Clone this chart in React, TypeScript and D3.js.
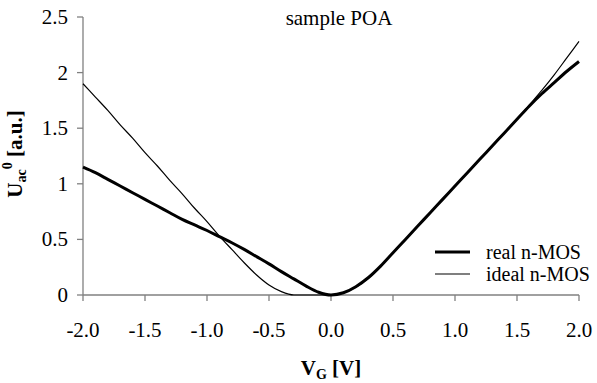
import * as React from 'react';
import * as d3 from 'd3';

const vg = [
  -2.0, -1.9, -1.8, -1.7, -1.6, -1.5, -1.4, -1.3, -1.2, -1.1, -1.0,
  -0.9, -0.8, -0.7, -0.6, -0.5, -0.4, -0.3, -0.2, -0.1, 0.0,
  0.1, 0.2, 0.3, 0.4, 0.5, 0.6, 0.7, 0.8, 0.9, 1.0,
  1.1, 1.2, 1.3, 1.4, 1.5, 1.6, 1.7, 1.8, 1.9, 2.0,
];
const realNMOS = [
  1.15, 1.10, 1.04, 0.98, 0.92, 0.86, 0.80, 0.74, 0.68, 0.63, 0.58,
  0.525, 0.47, 0.41, 0.345, 0.28, 0.21, 0.145, 0.08, 0.025, 0.0,
  0.02, 0.075, 0.155, 0.26, 0.38, 0.5, 0.62, 0.74, 0.86, 0.98,
  1.10, 1.22, 1.34, 1.46, 1.58, 1.70, 1.81, 1.91, 2.01, 2.10,
];
const idealNMOS = [
  1.90, 1.78, 1.66, 1.53, 1.41, 1.28, 1.16, 1.03, 0.91, 0.78, 0.66,
  0.53, 0.41, 0.29, 0.18, 0.09, 0.03, 0.0, 0.0, 0.0, 0.0,
  0.02, 0.07, 0.15, 0.26, 0.38, 0.5, 0.62, 0.74, 0.86, 0.98,
  1.10, 1.22, 1.34, 1.46, 1.58, 1.71, 1.84, 1.98, 2.13, 2.28,
];
const xTicks = [-2.0, -1.5, -1.0, -0.5, 0.0, 0.5, 1.0, 1.5, 2.0];
const yTicks = [0, 0.5, 1, 1.5, 2, 2.5];
const seriesNames = ['real n-MOS', 'ideal n-MOS'];

const font = "'Times New Roman', 'Liberation Serif', serif";
const axisColor = '#808080';

export default function App() {
  const width = 597;
  const height = 383;
  const margin = {top: 17, right: 18, bottom: 88, left: 83};
  const w = width - margin.left - margin.right;
  const h = height - margin.top - margin.bottom;

  const x = d3.scaleLinear().domain([-2, 2]).range([0, w]);
  const y = d3.scaleLinear().domain([0, 2.5]).range([h, 0]);

  const line = d3.line<number>()
    .x((_, i) => x(vg[i]))
    .y(d => y(d))
    .curve(d3.curveMonotoneX);

  return (
    <svg width={width} height={height} fontFamily={font} fontSize={21}
      style={{position: 'absolute', left: 0, top: 0, background: '#fff', fontFamily: font}}>
      <g transform={`translate(${margin.left},${margin.top})`}>
        {/* y axis */}
        <line x1={0} x2={0} y1={0} y2={h} stroke={axisColor} strokeWidth={1.3} />
        {yTicks.map(t => (
          <g key={'y' + t} transform={`translate(0,${y(t)})`}>
            <line x1={-6} x2={0} stroke={axisColor} strokeWidth={1.3} />
            <text x={-15} dy="0.33em" textAnchor="end">{String(t)}</text>
          </g>
        ))}
        {/* x axis */}
        <line x1={0} x2={w} y1={h} y2={h} stroke={axisColor} strokeWidth={1.3} />
        {xTicks.map(t => (
          <g key={'x' + t} transform={`translate(${x(t)},${h})`}>
            <line y1={0} y2={6} stroke={axisColor} strokeWidth={1.3} />
            <text y={42} textAnchor="middle">{t.toFixed(1)}</text>
          </g>
        ))}
        <path d={line(idealNMOS) || ''} fill="none" stroke="#000" strokeWidth={1.2} />
        <path d={line(realNMOS) || ''} fill="none" stroke="#000" strokeWidth={3} />
      </g>

      <text x={339} y={25} textAnchor="middle">sample POA</text>

      {seriesNames.map((name, i) => {
        const ly = 252 + i * 22;
        return (
          <g key={name}>
            <line x1={435} x2={470} y1={ly} y2={ly} stroke="#000" strokeWidth={i === 0 ? 3 : 1.2} />
            <text x={486} y={ly + 7} fontSize={20}>{name}</text>
          </g>
        );
      })}

      <text x={331} y={375} textAnchor="middle" fontWeight="bold">
        <tspan>V</tspan>
        <tspan dy={4} fontSize={14}>G</tspan>
        <tspan dy={-4}> [V]</tspan>
      </text>

      <text transform="translate(22,154) rotate(-90)" textAnchor="middle" fontWeight="bold">
        <tspan>U</tspan>
        <tspan dy={4} fontSize={14}>ac</tspan>
        <tspan dy={-14} fontSize={14}>0</tspan>
        <tspan dy={10}> [a.u.]</tspan>
      </text>
    </svg>
  );
}
